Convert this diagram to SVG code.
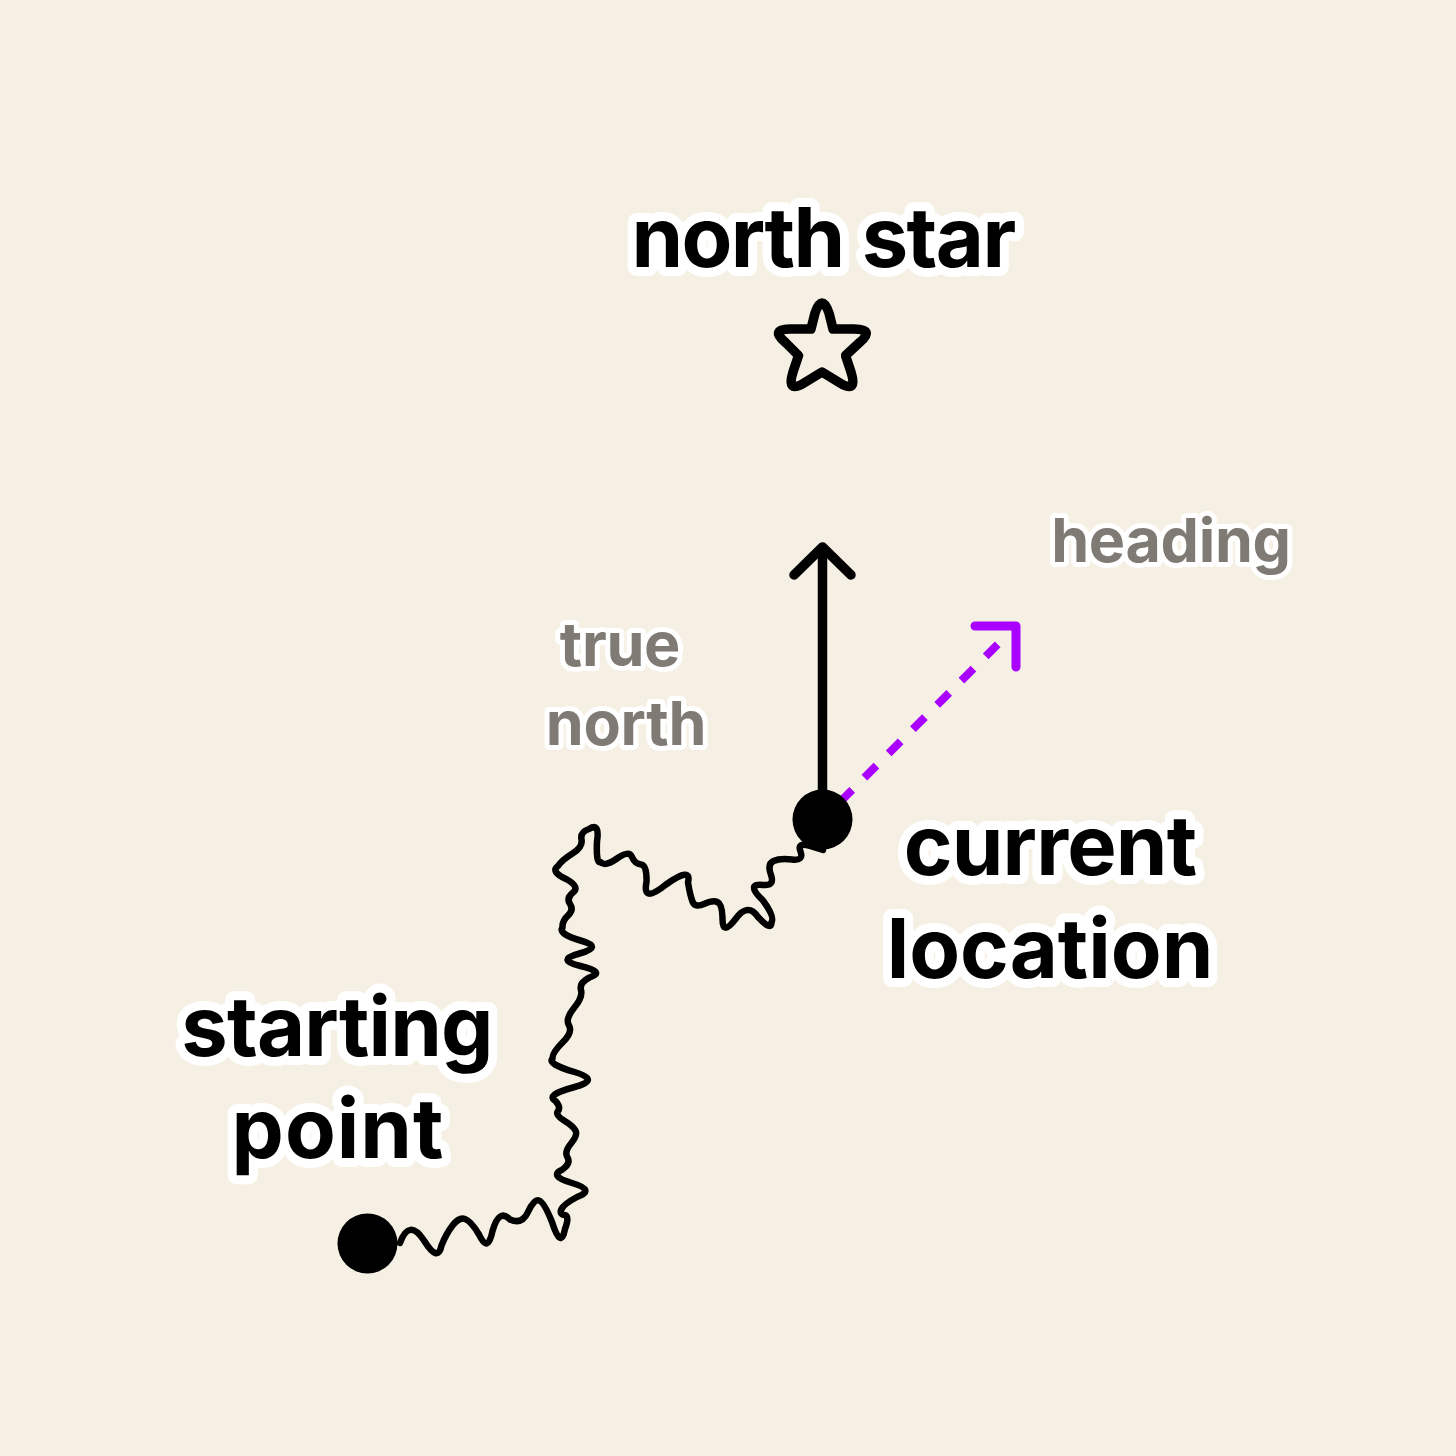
<svg xmlns="http://www.w3.org/2000/svg" width="1456" height="1456" viewBox="0 0 1456 1456">
<style>
.l{font-family:"Inter","Liberation Sans",sans-serif;font-weight:700;text-anchor:middle;paint-order:stroke fill;stroke-linejoin:round}
.b{font-size:83px;fill:#000;stroke:#fff;stroke-width:18px}
.g{font-size:61px;fill:#7f7b74;stroke:#fff;stroke-width:10px;letter-spacing:-.3px}
.k{fill:none;stroke:#000;stroke-linecap:round;stroke-linejoin:round}
</style>
<rect width="1456" height="1456" fill="#f5f0e3"/>
<g id="connectors">
<path id="path" class="k" stroke-width="6.500" d="M400 1243Q409 1218 424 1240.500Q438 1263 441.500 1245.500Q446 1234 452.500 1225.500Q459 1217 465 1219Q471 1221 479 1234.500Q488 1254 492.500 1231Q499 1208 510 1219.500Q522 1225 528 1212Q534 1199 539 1200.500Q544 1202 552 1222Q561 1250 565 1229Q570 1216 564.500 1215Q559 1214 561.500 1209Q564 1204 577 1197Q596 1190 572 1183Q548 1176 562.500 1169.500Q571 1163 567.500 1157.500Q564 1152 571 1143.500Q578 1135 575.500 1130.500Q573 1126 564 1120.500Q555 1115 558 1111Q561 1107 555.500 1101Q545 1095 573 1087.500Q602 1080 574.500 1072Q547 1064 552.500 1058.500Q552 1053 562.500 1042.500Q573 1032 569 1025.500Q565 1019 574 1008Q583 997 581 990Q579 983 589.500 977.500Q606 972 580.500 966Q555 960 579.500 953.500Q604 947 580.500 940.500Q558 934 562.500 927.500Q562 921 568 915.500Q574 910 570 904Q566 898 573 892.500Q580 887 567 879.500Q550 872 558 866Q562 860 572.500 853.500Q583 847 581.500 839.500Q580 832 589 829Q600 822 597 841.500Q596 864 600.500 862Q605 867 617 858.500Q629 850 632 857Q635 864 641 864.500Q647 865 646.500 882Q642 904 666 884.500Q692 866 688 882.500Q690 895 692.500 901.500Q695 908 704 904Q713 900 717.500 902Q722 904 722.500 917.500Q722 937 735.500 919Q748 902 758 917Q772 932 771.500 922Q775 917 763 900.500Q745 883 763 885Q775 886 771 875Q767 864 773.500 861Q780 858 792 859.500Q804 861 800.500 851.500Q797 842 810 846L823 850"/>
<line id="true-north" class="k" stroke-width="9.500" x1="822.500" y1="800" x2="822.500" y2="548"/>
<polyline id="true-north-head" class="k" stroke-width="9.500" points="794,575 822.500,547 851,575"/>
<line id="heading-line" x1="997.700" y1="644.300" x2="835" y2="807" stroke="#aa00ff" stroke-width="8" stroke-dasharray="17 17.300"/>
<polyline id="heading-head" fill="none" stroke="#aa00ff" stroke-width="9" stroke-linecap="round" stroke-linejoin="round" points="975,626 1016,626 1016,667"/>
</g>
<g id="star"><path class="k" stroke-width="9.500" d="M815 313Q822 293 829 313L833 329H854Q876 329 859 343L845.500 355.500L851 372Q858 394 840 383L822 372L804 383Q786 394 793 372L798.500 355.500L786 343Q769 329 790 329H811Z"/></g>
<g id="start-dot"><circle cx="367.500" cy="1243.500" r="30"/></g>
<g id="current-dot"><circle cx="822.500" cy="819.500" r="30"/></g>
<g id="label-north-star"><text class="l b" x="823" y="267" letter-spacing="-1.600">north star</text></g>
<g id="label-current"><text class="l b" x="1050" y="875" letter-spacing="-.8">current</text><text class="l b" x="1050" y="978">location</text></g>
<g id="label-start"><text class="l b" x="337" y="1056" letter-spacing="-.8">starting</text><text class="l b" x="338" y="1158" letter-spacing="1">point</text></g>
<g id="label-heading"><text class="l g" x="1171" y="562">heading</text></g>
<g id="label-true-north"><text class="l g" x="620" y="666">true</text><text class="l g" x="626" y="745">north</text></g>
</svg>
